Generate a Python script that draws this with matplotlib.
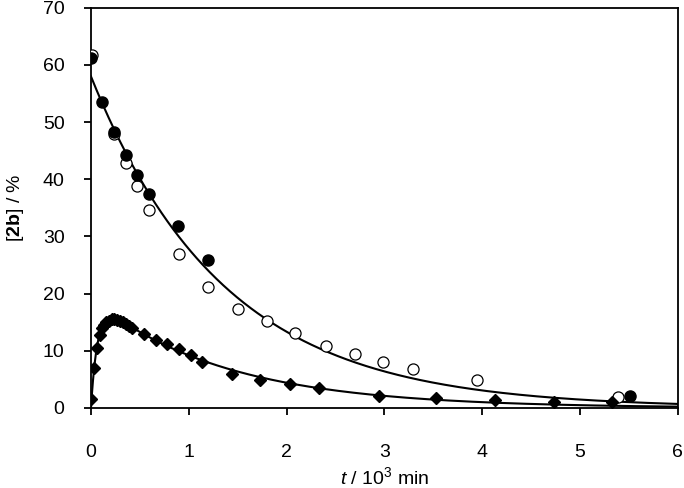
import matplotlib
matplotlib.use('Agg')
import matplotlib.pyplot as plt
import numpy as np

plt.rcParams['font.family'] = ['Liberation Sans', 'DejaVu Sans']
plt.rcParams['mathtext.fontset'] = 'custom'
plt.rcParams['mathtext.rm'] = 'Liberation Sans'
plt.rcParams['mathtext.it'] = 'Liberation Sans:italic'
plt.rcParams['mathtext.bf'] = 'Liberation Sans:bold'

# filled circles
t_filled = [0.0, 0.116, 0.24, 0.355, 0.47, 0.593, 0.893, 1.2, 5.51]
y_filled = [61.2, 53.6, 48.25, 44.3, 40.8, 37.5, 31.85, 25.9, 2.1]

# open circles
t_open = [0.007, 0.24, 0.355, 0.47, 0.596, 0.90, 1.2, 1.5, 1.8, 2.09, 2.40, 2.70, 2.99, 3.29, 3.95, 5.39]
y_open = [61.8, 47.9, 42.9, 38.8, 34.6, 26.95, 21.2, 17.3, 15.3, 13.2, 10.85, 9.4, 8.0, 6.8, 4.96, 2.0]

# diamonds
t_dia = [0.0, 0.034, 0.065, 0.089, 0.11, 0.13, 0.15, 0.18, 0.21, 0.24, 0.27, 0.30, 0.33, 0.36, 0.39, 0.42,
         0.54, 0.66, 0.78, 0.90, 1.02, 1.14, 1.44, 1.73, 2.03, 2.33, 2.94, 3.53, 4.13, 4.73, 5.33]
y_dia = [1.5, 7.05, 10.55, 12.8, 14.05, 14.6, 15.0, 15.3, 15.5, 15.5, 15.4, 15.2, 15.0, 14.7, 14.4, 14.0,
         12.9, 11.9, 11.2, 10.3, 9.3, 8.1, 5.9, 4.9, 4.2, 3.55, 2.15, 1.8, 1.35, 1.05, 1.05]

# fitted kinetic parameters (t in 10^3 min)
a0 = 58.0
k_slow = 0.735
k_fast = 15.0
b0 = 19.2

t = np.linspace(0, 6, 600)
fit_a = a0 * np.exp(-k_slow * t)
fit_b = b0 * (np.exp(-k_slow * t) - np.exp(-k_fast * t))

fig = plt.figure(figsize=(6.84, 4.88), dpi=100)
ax = fig.add_axes([0.133, 0.164, 0.858, 0.820])

ax.plot(t, fit_a, color='black', lw=1.5, zorder=2)
ax.plot(t, fit_b, color='black', lw=1.5, zorder=2)
ax.plot(t_open, y_open, 'o', ms=8, mfc='white', mec='black', mew=0.9, zorder=3)
ax.plot(t_filled, y_filled, 'o', ms=8, mfc='black', mec='black', zorder=4)
ax.plot(t_dia, y_dia, 'D', ms=6.5, mfc='black', mec='black', zorder=4)

ax.set_xlim(0, 6)
ax.set_ylim(0, 70)
ax.set_xticks(range(0, 7))
ax.set_yticks(range(0, 71, 10))
ax.tick_params(direction='out', length=5, width=1.3, labelsize=14)
ax.tick_params(axis='x', pad=21)
ax.tick_params(axis='y', pad=14)
for s in ax.spines.values():
    s.set_linewidth(1.3)

ax.set_xlabel(r'$t$ / 10$^3$ min', fontsize=14, labelpad=4)
ax.set_ylabel(r'[$\mathbf{2b}$] / %', fontsize=14, labelpad=12)

fig.savefig('out.png', dpi=100)
